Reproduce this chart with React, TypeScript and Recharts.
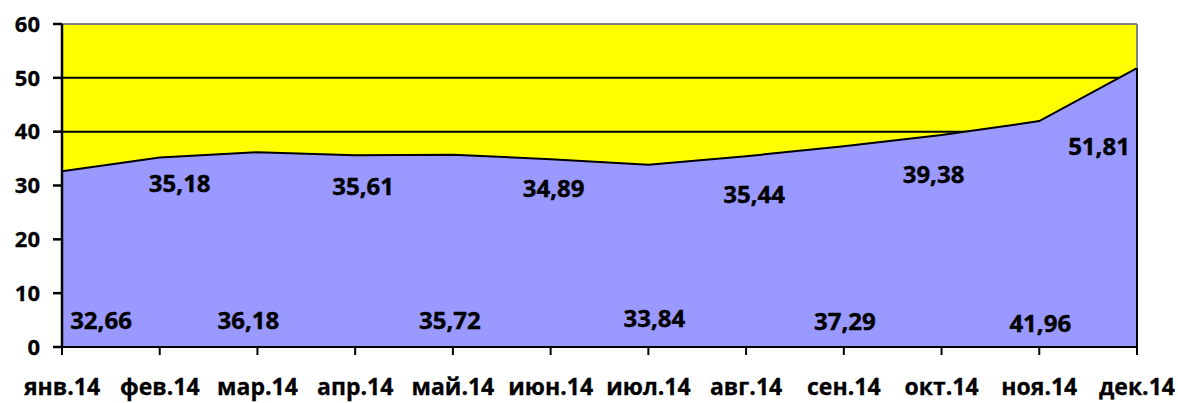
import React from "react";
import {
  Area,
  AreaChart,
  CartesianGrid,
  LabelList,
  ReferenceLine,
  XAxis,
  YAxis,
} from "recharts";

const months = [
  "янв.14",
  "фев.14",
  "мар.14",
  "апр.14",
  "май.14",
  "июн.14",
  "июл.14",
  "авг.14",
  "сен.14",
  "окт.14",
  "ноя.14",
  "дек.14",
];
const prices = [
  32.66, 35.18, 36.18, 35.61, 35.72, 34.89, 33.84, 35.44, 37.29, 39.38, 41.96,
  51.81,
];
const yTicks = [0, 10, 20, 30, 40, 50, 60];

const data = months.map((m, i) => ({ month: m, price: prices[i] }));

const W = 1178;
const H = 403;
const XAXIS_H = 56;
const PLOT_BOTTOM = H - XAXIS_H;
const FONT = "'Open Sans', 'DejaVu Sans', sans-serif";

// where each value label sits: either below the point (dy) or up from the x axis (up)
const labelPlace: { dx: number; dy?: number; up?: number }[] = [
  { dx: 39, up: 18 },
  { dx: 20, dy: 34 },
  { dx: -9, up: 18 },
  { dx: 8, dy: 40 },
  { dx: -3, up: 18 },
  { dx: 3, dy: 38 },
  { dx: 6, up: 20 },
  { dx: 8, dy: 47 },
  { dx: 1, up: 17 },
  { dx: -8, dy: 48 },
  { dx: 1, up: 15 },
  { dx: -38, dy: 87 },
];

const ValueLabel = (props: any) => {
  const { index, value } = props;
  const px = props.x ?? props.viewBox?.x;
  const py = props.y ?? props.viewBox?.y;
  const p = labelPlace[index];
  const ty = p.up !== undefined ? PLOT_BOTTOM - p.up : py + (p.dy || 0);
  return (
    <text
      x={px + p.dx}
      y={ty}
      textAnchor="middle"
      fontFamily={FONT}
      fontWeight={700}
      fontSize={24}
      fill="#000"
      stroke="#000"
      strokeWidth={0.4}
    >
      {Number(value).toFixed(2).replace(".", ",")}
    </text>
  );
};

export default function App() {
  const last = months[months.length - 1];
  return (
    <div style={{ width: W, height: H, background: "#fff" }}>
      <style>{`body{margin:0}`}</style>
      <AreaChart
        width={W}
        height={H}
        data={data}
        margin={{ top: 24, right: 41, left: 0, bottom: 0 }}
      >
        <CartesianGrid
          vertical={false}
          stroke="#000"
          strokeWidth={2}
          fill="#FFFF00"
          fillOpacity={1}
        />
        <XAxis
          dataKey="month"
          height={XAXIS_H}
          stroke="#000"
          strokeWidth={2}
          tickSize={8}
          tickMargin={24}
          tick={{
            fill: "#000",
            stroke: "#000",
            strokeWidth: 0.3,
            fontFamily: FONT,
            fontWeight: 700,
            fontSize: 23,
          }}
          interval={0}
        />
        <YAxis
          domain={[0, 60]}
          ticks={yTicks}
          width={62}
          stroke="#000"
          strokeWidth={2.5}
          tickSize={9}
          tickMargin={13}
          tick={{
            fill: "#000",
            stroke: "#000",
            strokeWidth: 0.3,
            fontFamily: FONT,
            fontWeight: 700,
            fontSize: 22,
          }}
          interval={0}
        />
        <Area
          type="linear"
          dataKey="price"
          stroke="#000"
          strokeWidth={2}
          fill="#9999FF"
          fillOpacity={1}
          isAnimationActive={false}
        >
          <LabelList dataKey="price" content={<ValueLabel />} />
        </Area>
        <ReferenceLine y={60} stroke="#808080" strokeWidth={2} />
        <ReferenceLine x={last} stroke="#808080" strokeWidth={2} />
        <ReferenceLine
          segment={[
            { x: last, y: 0 },
            { x: last, y: prices[prices.length - 1] },
          ]}
          stroke="#000"
          strokeWidth={2}
        />
      </AreaChart>
    </div>
  );
}
